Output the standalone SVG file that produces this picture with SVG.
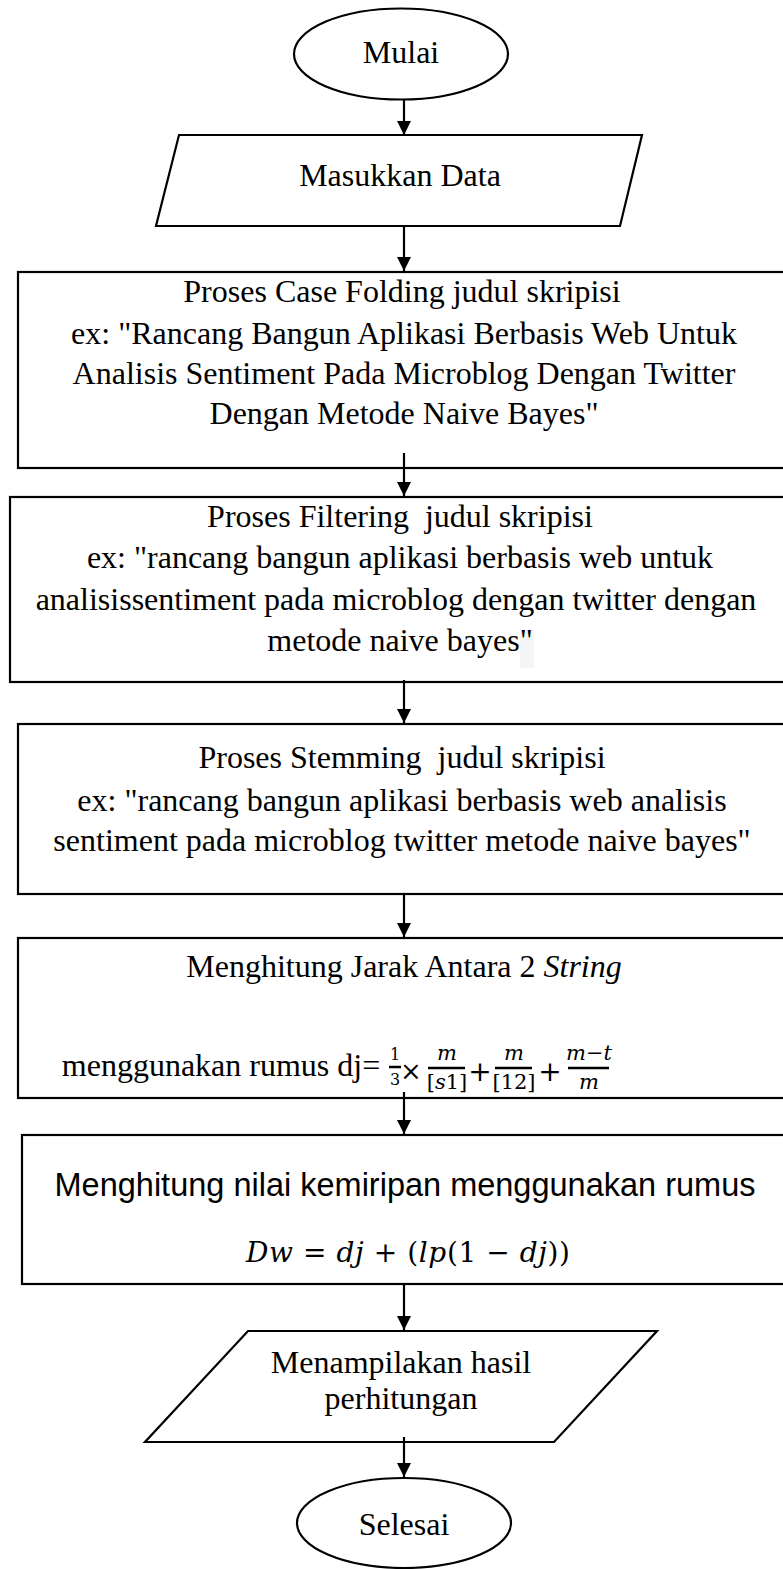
<svg xmlns="http://www.w3.org/2000/svg" width="783" height="1569" viewBox="0 0 783 1569">
<style>
.shape{fill:#fff;stroke:#000;stroke-width:2.2}
.t{font-family:"Liberation Serif","Times New Roman",serif;font-size:32px;fill:#000;text-anchor:middle}
.s{font-family:"Liberation Sans",Arial,sans-serif;font-size:32.5px;fill:#000;text-anchor:middle}
.m{font-family:"DejaVu Serif","Liberation Serif",serif;fill:#000;text-anchor:middle}
.i{font-style:italic}
.conn{stroke:#000;stroke-width:2.2;fill:none;marker-end:url(#arr)}
.bar{stroke:#000;stroke-width:2.5}
</style>
<defs>
<marker id="arr" markerWidth="15" markerHeight="14" refX="14" refY="7" orient="auto" markerUnits="userSpaceOnUse">
<path d="M0,0 L14,7 L0,14 Z" fill="#000"/>
</marker>
</defs>

<g id="mulai">
<ellipse class="shape" cx="401" cy="54" rx="107" ry="45.5"/>
<text class="t" x="401" y="63">Mulai</text>
</g>

<g id="input">
<polygon class="shape" points="179,135 642,135 620,226 156,226"/>
<text class="t" x="400" y="186">Masukkan Data</text>
</g>

<g id="casefolding">
<rect class="shape" x="18" y="272" width="790" height="196"/>
<text class="t" x="402" y="302">Proses Case Folding judul skripisi</text>
<text class="t" x="404" y="344">ex: "Rancang Bangun Aplikasi Berbasis Web Untuk</text>
<text class="t" x="404" y="384">Analisis Sentiment Pada Microblog Dengan Twitter</text>
<text class="t" x="404" y="424">Dengan Metode Naive Bayes"</text>
</g>

<g id="filtering">
<rect class="shape" x="10" y="497" width="800" height="185"/>
<rect x="520" y="630" width="14" height="38" fill="#f5f5f5"/>
<text class="t" x="400" y="527" xml:space="preserve">Proses Filtering  judul skripisi</text>
<text class="t" x="400" y="568">ex: "rancang bangun aplikasi berbasis web untuk</text>
<text class="t" x="396" y="610">analisissentiment pada microblog dengan twitter dengan</text>
<text class="t" x="400" y="651">metode naive bayes"</text>
</g>

<g id="stemming">
<rect class="shape" x="18" y="724" width="790" height="170"/>
<text class="t" x="402" y="768" xml:space="preserve">Proses Stemming  judul skripisi</text>
<text class="t" x="402" y="811">ex: "rancang bangun aplikasi berbasis web analisis</text>
<text class="t" x="402" y="851">sentiment pada microblog twitter metode naive bayes"</text>
</g>

<g id="jarak">
<rect class="shape" x="18" y="938" width="790" height="160"/>
<text class="t" x="404" y="977">Menghitung Jarak Antara 2 <tspan font-style="italic">String</tspan></text>
<text class="t" x="221" y="1076">menggunakan rumus dj=</text>
<text class="m" x="395" y="1060" font-size="16">1</text>
<line class="bar" x1="389" y1="1067" x2="401" y2="1067" stroke-width="1.6"/>
<text class="m" x="395" y="1085" font-size="16">3</text>
<text class="m" x="411" y="1080" font-size="26">×</text>
<text class="m i" x="447" y="1060" font-size="21">m</text>
<line class="bar" x1="428" y1="1068" x2="465" y2="1068"/>
<text class="m" x="447" y="1089" font-size="21">[<tspan font-style="italic">s</tspan>1]</text>
<text class="m" x="480" y="1081" font-size="28">+</text>
<text class="m i" x="514" y="1060" font-size="21">m</text>
<line class="bar" x1="495" y1="1068" x2="532" y2="1068"/>
<text class="m" x="514" y="1089" font-size="21">[12]</text>
<text class="m" x="550" y="1081" font-size="28">+</text>
<text class="m" x="589" y="1060" font-size="21"><tspan font-style="italic">m</tspan>−<tspan font-style="italic">t</tspan></text>
<line class="bar" x1="568" y1="1068" x2="609" y2="1068"/>
<text class="m i" x="589" y="1089" font-size="21">m</text>
</g>

<g id="kemiripan">
<rect class="shape" x="22" y="1135" width="790" height="149"/>
<text class="s" x="405" y="1196">Menghitung nilai kemiripan menggunakan rumus</text>
<text class="m" x="408" y="1262" font-size="28" textLength="324" lengthAdjust="spacing"><tspan font-style="italic">Dw</tspan> = <tspan font-style="italic">dj</tspan> + (<tspan font-style="italic">lp</tspan>(1 − <tspan font-style="italic">dj</tspan>))</text>
</g>

<g id="output">
<polygon class="shape" points="248,1331 657,1331 554,1442 145,1442"/>
<text class="t" x="401" y="1373">Menampilakan hasil</text>
<text class="t" x="401" y="1409">perhitungan</text>
</g>

<g id="selesai">
<ellipse class="shape" cx="404" cy="1523" rx="107" ry="45"/>
<text class="t" x="404" y="1535">Selesai</text>
</g>

<g id="connectors">
<line class="conn" x1="404" y1="99" x2="404" y2="135"/>
<line class="conn" x1="404" y1="226" x2="404" y2="271"/>
<line class="conn" x1="404" y1="453" x2="404" y2="496"/>
<line class="conn" x1="404" y1="680" x2="404" y2="723"/>
<line class="conn" x1="404" y1="894" x2="404" y2="937"/>
<line class="conn" x1="404" y1="1092" x2="404" y2="1134"/>
<line class="conn" x1="404" y1="1284" x2="404" y2="1330"/>
<line class="conn" x1="404" y1="1437" x2="404" y2="1477"/>
</g>
</svg>
